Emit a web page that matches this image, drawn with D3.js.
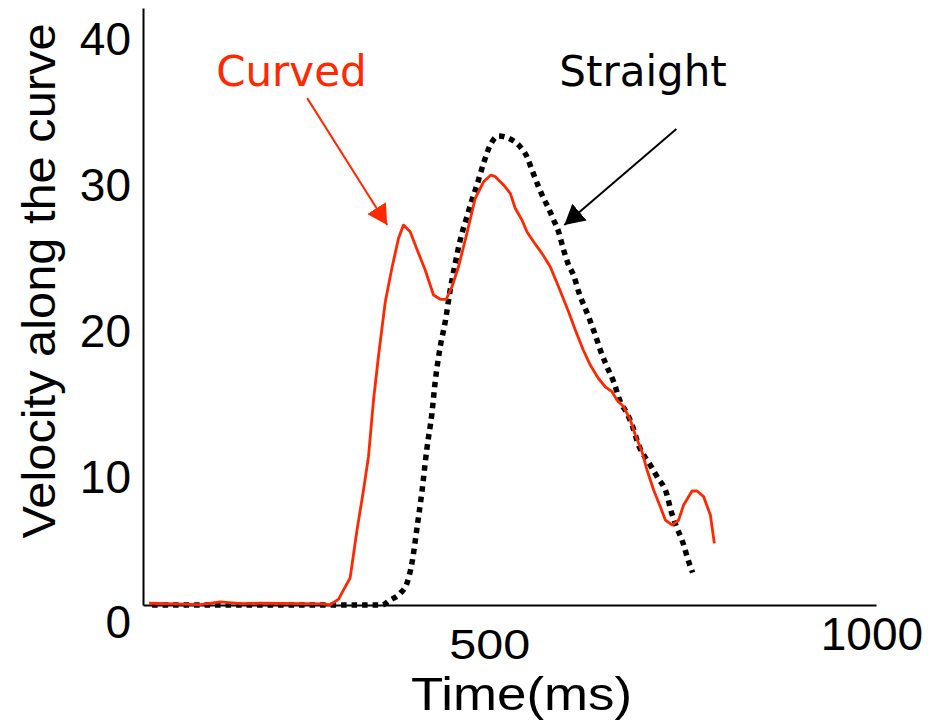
<!DOCTYPE html>
<html>
<head>
<meta charset="utf-8">
<script src="https://cdn.jsdelivr.net/npm/d3@7"></script>
<style>
  html, body { margin: 0; padding: 0; background: #ffffff; }
  svg { display: block; }
</style>
</head>
<body>
<svg id="chart" width="933" height="726"></svg>
<script>
// Tangential velocity profiles for curved vs straight movements
const curvedTime = [55, 122, 148, 175, 200, 253, 279, 292, 303, 309, 318, 327, 335.5, 342, 348.6, 355, 364, 372.6, 381.3, 387.8, 396.6, 405.4, 416.2, 427.1, 435.9, 443.7, 451.2, 459.8, 470.8, 481.7, 492.5, 502.2, 507.9, 518.7, 527.5, 534, 542.8, 549.3, 558, 569, 579.8, 590.7, 603.8, 612.6, 623, 632.2, 642.4, 651.8, 660.6, 667.1, 675.8, 684.6, 691.1, 699.9, 706.4, 715.1, 723.8, 730.4, 739.1, 747.8, 754.3, 765.3, 771.9, 780.5, 789.3, 794.5];
const curvedVelocity = [0.12, 0.02, 0.21, 0.1, 0.12, 0.1, 0.08, 0.02, 0.4, 1.0, 1.85, 5.14, 7.89, 10.17, 14.06, 17.03, 20.8, 23.1, 25.15, 26.06, 25.6, 24.4, 22.98, 21.26, 20.97, 20.97, 21.83, 23.2, 25.5, 27.9, 29.03, 29.49, 29.38, 28.81, 28.24, 27.21, 26.41, 25.6, 24.92, 24.12, 23.2, 21.83, 20.12, 18.86, 17.49, 16.46, 15.57, 14.97, 14.63, 14.06, 13.6, 12.69, 11.66, 10.51, 9.26, 7.89, 6.74, 5.83, 5.49, 5.83, 6.86, 7.82, 7.82, 7.43, 6.17, 4.23];

const straightTime = [58.9, 278.8, 359.6, 370.4, 383.5, 392.3, 398.8, 405.4, 411.9, 418.5, 425, 429.3, 435.9, 442.4, 448.9, 455.5, 462, 470.8, 477.4, 483.9, 492.5, 501.3, 512.2, 525.3, 539.7, 549.3, 555.9, 564.5, 571.1, 577.6, 584.2, 590.7, 597.3, 603.8, 610.3, 616.9, 630, 638.7, 645.3, 653.1, 662.7, 671.5, 680.2, 686.8, 695.4, 710.7, 719.5, 732.6, 736.9, 745.7, 752.2, 760.9, 766.1];
const straightVelocity = [0, 0, 0, 0.34, 0.8, 1.49, 2.86, 5.26, 7.77, 10.75, 13.15, 15.32, 17.72, 19.43, 21.6, 23.44, 25.03, 26.63, 27.78, 28.81, 30.29, 31.55, 32.17, 32.01, 31.48, 30.75, 29.84, 28.69, 27.89, 27.21, 26.41, 25.6, 24.35, 23.32, 22.63, 21.49, 19.77, 18.52, 17.49, 16.46, 15.32, 13.94, 13.15, 12.35, 10.97, 9.6, 8.8, 7.54, 6.63, 5.26, 4.46, 2.97, 2.22];

const xTickValues = [500, 1000];
const yTickValues = [0, 10, 20, 30, 40];
const xTitle = "Time(ms)";
const yTitle = "Velocity along the curve";
const seriesNames = ["Curved", "Straight"];

// Annotation anchors, in data units (time, velocity)
const annotations = [
  { name: seriesNames[0], color: "#ff2800", label: [142.7, 35.6], from: [261.8, 34.77], to: [366.5, 26.06] },
  { name: seriesNames[1], color: "#000000", label: [591.6, 35.6], from: [744.8, 32.65], to: [598.2, 26.06] }
];

const svg = d3.select("#chart");

const x = d3.scaleLinear().domain([47, 1006]).range([143, 876]);
const y = d3.scaleLinear().domain([0, 40.95]).range([605, 8]);

const axisFont = "'Liberation Sans', Arial, Helvetica, sans-serif";
const labelFont = "'DejaVu Sans', Verdana, sans-serif";

// Per-label vertical drop for the time labels
const xLabelDrop = { 500: 11, 1000: 0 };

// Y axis
const gy = svg.append("g")
  .attr("transform", `translate(${x(47)},0)`)
  .call(d3.axisLeft(y).tickValues(yTickValues).tickSize(0).tickSizeOuter(0).tickPadding(12).tickFormat(d3.format("d")));
gy.select(".domain").attr("stroke", "#000").attr("stroke-width", 2);
gy.selectAll(".tick text")
  .attr("dy", "0.717em")
  .attr("font-family", axisFont)
  .attr("font-size", 46)
  .attr("fill", "#000");

// X axis
const gx = svg.append("g")
  .attr("transform", `translate(0,${y(0)})`)
  .call(d3.axisBottom(x).tickValues(xTickValues).tickSize(0).tickSizeOuter(0).tickPadding(12).tickFormat(d3.format("d")));
gx.select(".domain").attr("stroke", "#000").attr("stroke-width", 2);
gx.selectAll(".tick text")
  .attr("y", d => 12 + xLabelDrop[d])
  .attr("font-family", axisFont)
  .attr("font-size", d => d === 500 ? 43 : 46)
  .attr("textLength", d => d === 500 ? 81 : null)
  .attr("lengthAdjust", "spacingAndGlyphs")
  .attr("fill", "#000");

// Axis titles
svg.append("text")
  .attr("x", 521.5)
  .attr("y", 710)
  .attr("text-anchor", "middle")
  .attr("font-family", axisFont)
  .attr("font-size", 46)
  .attr("textLength", 221)
  .attr("lengthAdjust", "spacingAndGlyphs")
  .text(xTitle);

svg.append("text")
  .attr("transform", "translate(55,281) rotate(-90)")
  .attr("text-anchor", "middle")
  .attr("font-family", axisFont)
  .attr("font-size", 46)
  .attr("textLength", 515)
  .attr("lengthAdjust", "spacingAndGlyphs")
  .text(yTitle);

// Series
const straightData = straightTime.map((t, i) => [t, straightVelocity[i]]);
const curvedData = curvedTime.map((t, i) => [t, curvedVelocity[i]]);

const smoothLine = d3.line().x(d => x(d[0])).y(d => y(d[1])).curve(d3.curveMonotoneX);
const plainLine = d3.line().x(d => x(d[0])).y(d => y(d[1]));

svg.append("path")
  .datum(straightData)
  .attr("d", smoothLine)
  .attr("fill", "none")
  .attr("stroke", "#000")
  .attr("stroke-width", 5.5)
  .attr("stroke-dasharray", "5.5,5")
  .attr("stroke-linecap", "butt");

svg.append("path")
  .datum(curvedData)
  .attr("d", plainLine)
  .attr("fill", "none")
  .attr("stroke", "#ff2800")
  .attr("stroke-width", 2.8)
  .attr("stroke-linejoin", "round");

// Arrow heads
const defs = svg.append("defs");
annotations.forEach((a, i) => {
  defs.append("marker")
    .attr("id", "head" + i)
    .attr("viewBox", "0 0 20 22")
    .attr("refX", 20)
    .attr("refY", 11)
    .attr("markerWidth", 20)
    .attr("markerHeight", 22)
    .attr("markerUnits", "userSpaceOnUse")
    .attr("orient", "auto")
    .append("path")
    .attr("d", "M0,0L20,11L0,22Z")
    .attr("fill", a.color);
});

// Series labels with pointer arrows
annotations.forEach((a, i) => {
  svg.append("text")
    .attr("x", x(a.label[0]))
    .attr("y", y(a.label[1]))
    .attr("font-family", labelFont)
    .attr("font-size", 42)
    .attr("fill", a.color)
    .text(a.name);

  svg.append("line")
    .attr("x1", x(a.from[0]))
    .attr("y1", y(a.from[1]))
    .attr("x2", x(a.to[0]))
    .attr("y2", y(a.to[1]))
    .attr("stroke", a.color)
    .attr("stroke-width", 2)
    .attr("marker-end", `url(#head${i})`);
});
</script>
</body>
</html>
